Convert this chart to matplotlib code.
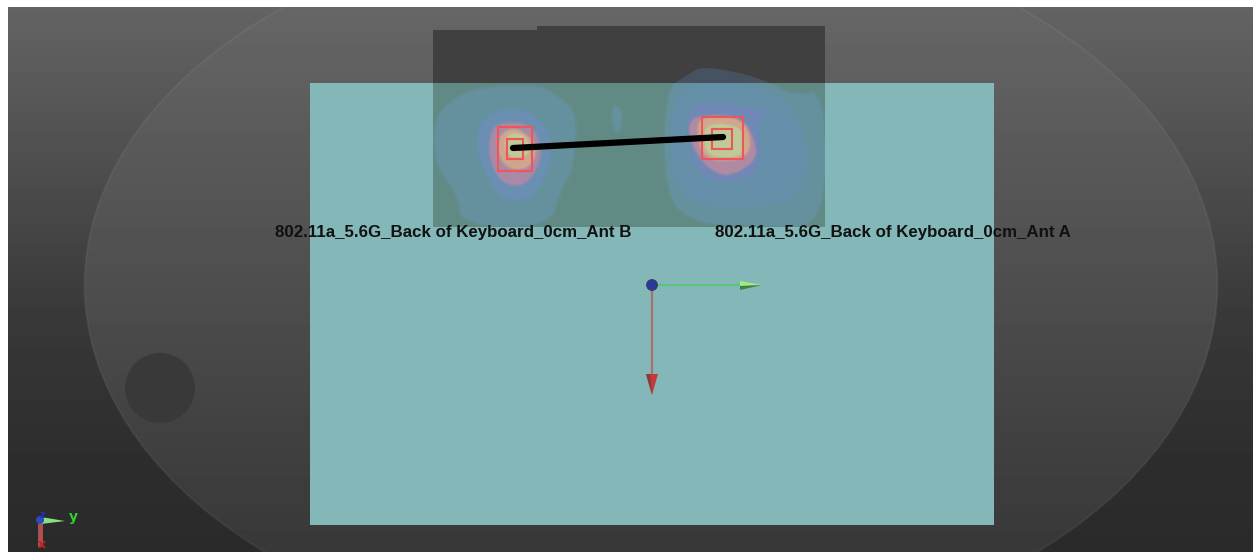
"""
SAR scan overview: phantom, keyboard plane and two antenna hot spots.
"""
import numpy as np
import matplotlib
matplotlib.use("Agg")
import matplotlib.pyplot as plt
from matplotlib.colors import to_rgba
from matplotlib.patches import Ellipse, Circle, Rectangle, Polygon

W, H = 1253, 552

# background gradient, top to bottom
BG_STOPS_Y = [7, 140, 320, 450, 552]
BG_STOPS_GREY = [0.39, 0.32, 0.22, 0.18, 0.165]
PHANTOM_STOPS_GREY = [0.40, 0.353, 0.294, 0.25, 0.22]

# scan labels
LABELS = ["802.11a_5.6G_Back of Keyboard_0cm_Ant B",
          "802.11a_5.6G_Back of Keyboard_0cm_Ant A"]
LABEL_X = [275, 715]
LABEL_Y = [233, 233]

# hot spot contours, outermost first
LEFT_OUTER = [(433, 130), (443, 107), (473, 88), (540, 85), (558, 97), (577, 113), (573, 170),
              (560, 190), (550, 226), (462, 226), (458, 193), (438, 170)]
LEFT_BLUE = [(480, 123), (497, 110), (530, 110), (553, 137), (547, 177), (527, 200), (503, 200),
             (487, 177), (477, 147)]
LEFT_PINK = [(490, 137), (497, 123), (530, 123), (543, 150), (533, 177), (517, 187), (500, 180), (490, 160)]
LEFT_PALE = [(498, 137), (513, 127), (530, 137), (537, 150), (530, 167), (513, 170), (500, 160)]
LEFT_CORE = [(505, 137), (517, 132), (528, 140), (530, 153), (520, 158), (507, 155)]
RIGHT_OUTER = [(665, 90), (690, 73), (703, 66), (760, 77), (793, 97), (825, 90), (825, 226), (770, 226),
               (695, 224), (665, 195)]
RIGHT_BLUE = [(673, 97), (700, 83), (760, 87), (787, 103), (793, 113), (807, 143), (803, 193), (767, 207),
              (700, 207), (670, 177)]
RIGHT_DEEP = [(687, 113), (700, 102), (770, 110), (757, 120), (760, 147), (757, 173), (727, 183), (703, 177),
              (690, 153)]
RIGHT_PINK = [(688, 123), (702, 115), (743, 117), (757, 147), (753, 163), (727, 177), (707, 167), (693, 147)]
RIGHT_PALE = [(697, 127), (703, 117), (742, 118), (752, 143), (743, 160), (703, 160)]
RIGHT_CORE = [(703, 132), (713, 123), (740, 127), (745, 143), (740, 157), (707, 157)]
SPOT = [(612, 108), (618, 106), (622, 112), (621, 125), (617, 134), (613, 124)]

CONTOURS = [LEFT_OUTER, LEFT_BLUE, LEFT_PINK, LEFT_PALE, LEFT_CORE,
            RIGHT_OUTER, RIGHT_BLUE, RIGHT_DEEP, RIGHT_PINK, RIGHT_PALE, RIGHT_CORE, SPOT]
CONTOUR_COLORS = ["#65919f", "#6a8fb2", "#a88aa6", "#cfa58c", "#c2c996",
                  "#65919f", "#6690aa", "#6f88b5", "#b08aa2", "#d0a78c", "#c0c998", "#65919f"]

# red zoom scan boxes: x0, y0, x1, y1
RED_BOXES = [(498, 127, 532, 171), (507, 139, 523, 159),
             (702, 117, 743, 159), (712, 129, 732, 149)]

# black connecting line
LINK_X = [513, 723]
LINK_Y = [148, 137]


def smooth(pts, rounds=2):
    # corner cutting, the contours have no hard corners
    p = np.array(pts, dtype=float)
    for _ in range(rounds):
        q = np.roll(p, -1, axis=0)
        p = np.column_stack([0.75 * p + 0.25 * q, 0.25 * p + 0.75 * q]).reshape(-1, 2)
    return p


fig = plt.figure(figsize=(W / 100, H / 100), dpi=100, facecolor="white")
ax = fig.add_axes([0, 0, 1, 1])
ax.axis("off")

# backdrop
rows = np.arange(7, H)
grey = np.interp(rows, BG_STOPS_Y, BG_STOPS_GREY)
ax.imshow(grey[:, None], extent=(8, W, H, 7), cmap="gray", vmin=0, vmax=1,
          aspect="auto", zorder=0)

# phantom, same gradient a little lighter
inner = np.interp(rows, BG_STOPS_Y, PHANTOM_STOPS_GREY)
phantom_img = ax.imshow(inner[:, None], extent=(8, W, H, 7), cmap="gray", vmin=0, vmax=1,
                        aspect="auto", zorder=1)
ax.set_xlim(0, W)
ax.set_ylim(H, 0)
outline = Ellipse((651, 285), 1133, 730, fc="none", ec=(1, 1, 1, 0.05), lw=1.5, zorder=1.5)
ax.add_patch(outline)
outline.set_clip_path(Rectangle((8, 7), W - 8, H - 7, transform=ax.transData))
phantom_img.set_clip_path(Ellipse((651, 285), 1133, 730, transform=ax.transData))
ax.add_patch(Circle((160, 388), 35, fc="#393939", ec="none", zorder=2))

# device plane
ax.add_patch(Rectangle((310, 83), 684, 442, fc="#84b8b8", ec="none", zorder=3))

# dark scan area, two overlapping sheets
ax.add_patch(Polygon([(433, 30), (537, 30), (537, 26), (825, 26), (825, 83), (433, 83)],
                     fc="#404040", ec="none", zorder=4))
ax.add_patch(Rectangle((433, 83), 392, 144, fc="#628a85", ec="none", zorder=4))

scan_clip = Rectangle((433, 83), 392, 144, transform=ax.transData)
for pts, col in zip(CONTOURS, CONTOUR_COLORS):
    blob = Polygon(smooth(pts), fc=col, ec=to_rgba(col, 0.4), lw=2.5, zorder=5)
    ax.add_patch(blob)
    blob.set_clip_path(scan_clip)
# the part of the right contour above the plane is much darker
top_part = Polygon(smooth(RIGHT_OUTER), fc="#46525f", ec="none", zorder=5.1)
ax.add_patch(top_part)
top_part.set_clip_path(Rectangle((433, 26), 392, 57, transform=ax.transData))

for x0, y0, x1, y1 in RED_BOXES:
    ax.add_patch(Rectangle((x0, y0), x1 - x0, y1 - y0, fc="none", ec="#f0555a", lw=1.5, zorder=6))

ax.plot(LINK_X, LINK_Y, color="black", lw=4.5, solid_capstyle="round", zorder=7)

for x, y, s in zip(LABEL_X, LABEL_Y, LABELS):
    ax.text(x, y, s, fontsize=12.2, fontweight="bold", family="Liberation Sans",
            ha="left", va="center", color="#111111", zorder=8)

# scan origin axes
ax.plot([652, 745], [285, 285], color="#55c878", lw=1.4, zorder=8)
ax.add_patch(Polygon([(740, 281), (762, 285), (740, 286)], fc="#9cf07a", ec="none", zorder=9))
ax.add_patch(Polygon([(740, 286), (762, 285), (740, 290)], fc="#4a7a48", ec="none", zorder=9))
ax.plot([652, 652], [285, 378], color="#a8706f", lw=1.6, zorder=8)
ax.add_patch(Polygon([(646, 374), (658, 374), (652, 395)], fc="#c23a3a", ec="none", zorder=9))
ax.add_patch(Polygon([(646, 374), (650, 374), (652, 395)], fc="#8a3a3a", ec="none", zorder=9))
ax.add_patch(Circle((652, 285), 5.5, fc="#2b3a9a", ec="#333344", lw=0.5, zorder=10))

# corner triad
ax.plot([40, 40], [520, 544], color="#b05050", lw=3.5, zorder=8)
ax.add_patch(Polygon([(41, 517), (65, 521), (41, 524)], fc="#88e080", ec="none", zorder=9))
ax.add_patch(Circle((40, 520), 4, fc="#3048c0", ec="none", zorder=10))
ax.text(42, 515, "z", color="#2030c0", fontsize=7, fontweight="bold", ha="center", va="center", zorder=11)
ax.text(73, 517, "y", color="#30d030", fontsize=10, fontweight="bold", ha="center", va="center", zorder=10)
ax.text(42, 544, "x", color="#c02020", fontsize=9, fontweight="bold", ha="center", va="center", zorder=10)

fig.savefig("out.png", dpi=100, facecolor="white")
plt.close(fig)
